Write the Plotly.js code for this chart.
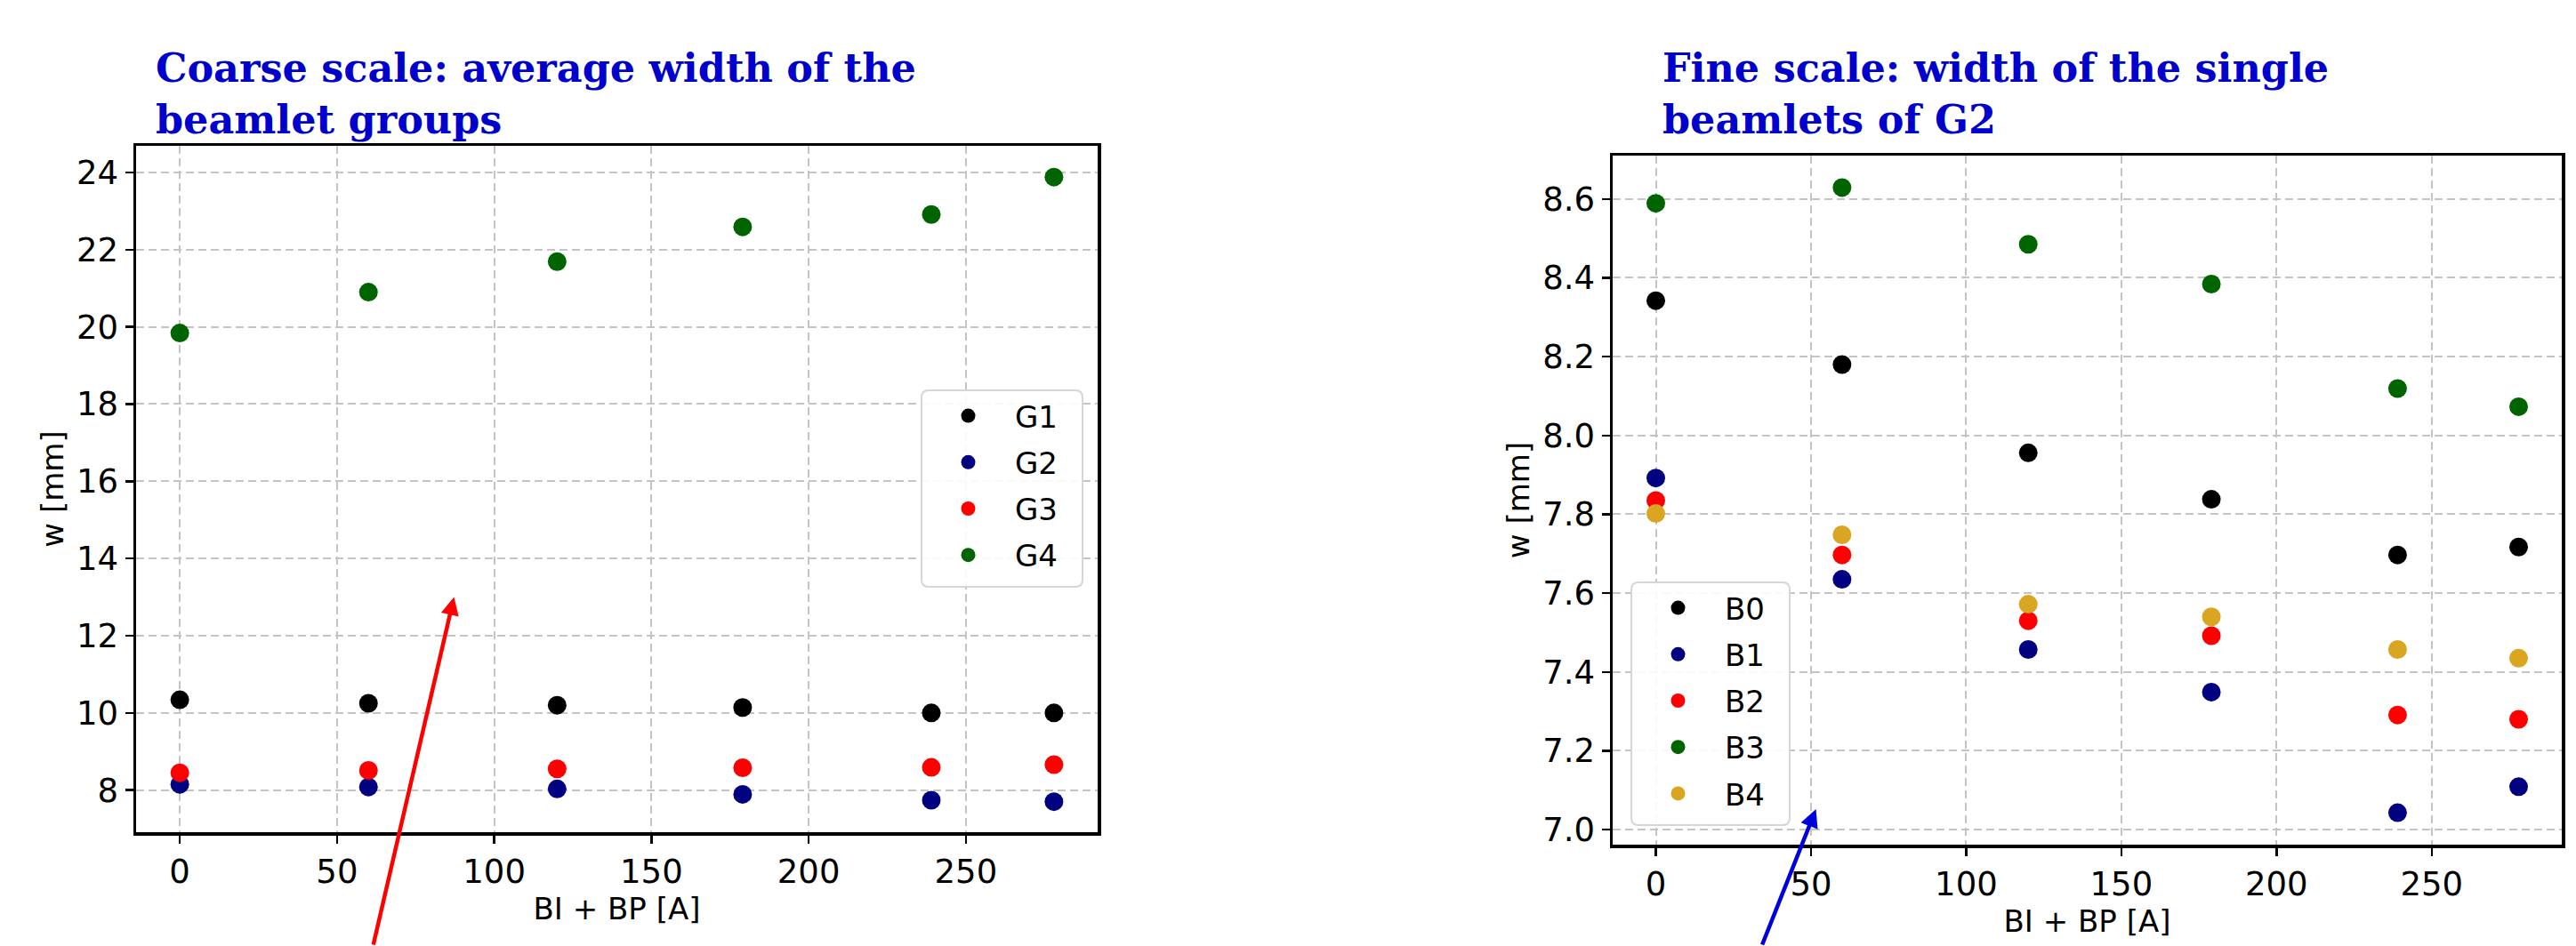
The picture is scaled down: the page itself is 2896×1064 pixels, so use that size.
<!DOCTYPE html>
<html>
<head>
<meta charset="utf-8">
<script src="https://cdn.plot.ly/plotly-3.0.1.min.js"></script>
<style>html,body{margin:0;padding:0;background:#fff;}#chart{width:2896px;height:1064px;}</style>
</head>
<body>
<div id="chart"></div>
<script>
// Currents BI + BP [A]
const current = [0, 60, 120, 179, 239, 278];

// Coarse scale: average width of beamlet groups [mm]
const G1 = [10.34, 10.25, 10.20, 10.14, 10.00, 10.00];
const G2 = [8.15, 8.08, 8.03, 7.89, 7.74, 7.70];
const G3 = [8.45, 8.51, 8.55, 8.58, 8.59, 8.66];
const G4 = [19.84, 20.90, 21.69, 22.59, 22.91, 23.88];

// Fine scale: single beamlets of G2 [mm]
const B0 = [8.342, 8.180, 7.956, 7.838, 7.697, 7.717];
const B1 = [7.892, 7.635, 7.457, 7.349, 7.043, 7.109];
const B2 = [7.835, 7.697, 7.530, 7.492, 7.291, 7.280];
const B3 = [8.589, 8.629, 8.485, 8.384, 8.119, 8.073];
const B4 = [7.802, 7.748, 7.572, 7.540, 7.457, 7.435];

const groupNames = ['G1', 'G2', 'G3', 'G4'];
const groupSeries = [G1, G2, G3, G4];
const beamNames = ['B0', 'B1', 'B2', 'B3', 'B4'];
const beamSeries = [B0, B1, B2, B3, B4];

const groupColors = ['#000000', '#000080', '#ff0000', '#006400'];
const beamColors = ['#000000', '#000080', '#ff0000', '#006400', '#daa520'];

const W = 2896, H = 1064;
const traces = [];
groupSeries.forEach((s, i) => traces.push({
  x: current, y: s, name: groupNames[i], type: 'scatter', mode: 'markers',
  marker: {color: groupColors[i], size: 21}, xaxis: 'x', yaxis: 'y',
  legend: 'legend', legendgroup: 'g' + i
}));
beamSeries.forEach((s, i) => traces.push({
  x: current, y: s, name: beamNames[i], type: 'scatter', mode: 'markers',
  marker: {color: beamColors[i], size: 21}, xaxis: 'x2', yaxis: 'y2',
  legend: 'legend2', legendgroup: 'b' + i
}));

const tickFont = {family: 'DejaVu Sans', size: 37, color: '#000'};
const labelFont = {family: 'DejaVu Sans', size: 34, color: '#000'};
function axisBase(extra) {
  return Object.assign({
    showline: true, linecolor: '#000', linewidth: 3.5, mirror: true,
    ticks: 'outside', ticklen: 9, tickwidth: 2.5, tickcolor: '#000',
    showgrid: true, gridcolor: '#c4c4c4', gridwidth: 2, griddash: '9px,5px',
    zeroline: false, tickfont: tickFont, automargin: false
  }, extra);
}

const legendBase = {
  font: {family: 'DejaVu Sans', size: 34, color: '#000'},
  bgcolor: 'rgba(0,0,0,0)', borderwidth: 0,
  xanchor: 'left', yanchor: 'top', traceorder: 'grouped', tracegroupgap: 5,
  itemwidth: 95
};

// rounded legend frame drawn as a paper-space path
function roundedBox(x0, y0, x1, y1, r) {
  const px = v => (v / W).toFixed(5), py = v => (1 - v / H).toFixed(5);
  return {
    type: 'path', xref: 'paper', yref: 'paper', layer: 'above',
    path: `M ${px(x0 + r)},${py(y0)} L ${px(x1 - r)},${py(y0)} Q ${px(x1)},${py(y0)} ${px(x1)},${py(y0 + r)} ` +
          `L ${px(x1)},${py(y1 - r)} Q ${px(x1)},${py(y1)} ${px(x1 - r)},${py(y1)} ` +
          `L ${px(x0 + r)},${py(y1)} Q ${px(x0)},${py(y1)} ${px(x0)},${py(y1 - r)} ` +
          `L ${px(x0)},${py(y0 + r)} Q ${px(x0)},${py(y0)} ${px(x0 + r)},${py(y0)} Z`,
    fillcolor: 'rgba(255,255,255,0.9)', line: {color: '#d6d6d6', width: 2}
  };
}

const titleFont = {family: 'DejaVu Serif', size: 44.5, color: '#0000cc', weight: 'bold'};

const layout = {
  width: W, height: H,
  margin: {l: 0, r: 0, t: 0, b: 0},
  paper_bgcolor: '#fff', plot_bgcolor: '#fff',
  showlegend: true,
  xaxis: axisBase({domain: [153 / W, 1234 / W], range: [-13.9, 291.9], dtick: 50, tick0: 0,
    title: {text: 'BI + BP [A]', font: labelFont, standoff: 5}, anchor: 'y'}),
  yaxis: axisBase({domain: [1 - 936 / H, 1 - 164 / H], range: [6.91, 24.69], dtick: 2, tick0: 0,
    title: {text: 'w [mm]', font: labelFont, standoff: 5}, anchor: 'x'}),
  xaxis2: axisBase({domain: [1813 / W, 2880 / W], range: [-13.9, 291.9], dtick: 50, tick0: 0,
    title: {text: 'BI + BP [A]', font: labelFont, standoff: 5}, anchor: 'y2'}),
  yaxis2: axisBase({domain: [1 - 950 / H, 1 - 175 / H], range: [6.962, 8.71], dtick: 0.2, tick0: 0,
    tickformat: '.1f', title: {text: 'w [mm]', font: labelFont, standoff: 5}, anchor: 'x2'}),
  legend: Object.assign({}, legendBase, {x: 1036 / W, y: 1 - 439 / H}),
  legend2: Object.assign({}, legendBase, {x: 1834 / W, y: 1 - 655 / H}),
  shapes: [roundedBox(1036, 439, 1217, 660, 8), roundedBox(1834, 655, 2012, 928, 8)],
  annotations: [
    {text: 'Coarse scale: average width of the<br>beamlet groups', xref: 'paper', yref: 'paper',
      x: 173 / W, y: 1 - 48 / H, xanchor: 'left', yanchor: 'top', align: 'left',
      showarrow: false, font: titleFont},
    {text: 'Fine scale: width of the single<br>beamlets of G2', xref: 'paper', yref: 'paper',
      x: 1867 / W, y: 1 - 48 / H, xanchor: 'left', yanchor: 'top', align: 'left',
      showarrow: false, font: titleFont},
    {text: '', xref: 'x', yref: 'y', x: 87.2, y: 13.0, ax: -91, ay: 408,
      showarrow: true, arrowhead: 2, arrowsize: 0.9, arrowwidth: 4.5, arrowcolor: '#ff0000'},
    {text: '', xref: 'x2', yref: 'y2', x: 51.6, y: 7.052, ax: -61, ay: 170,
      showarrow: true, arrowhead: 2, arrowsize: 0.9, arrowwidth: 4.5, arrowcolor: '#0000dd'}
  ]
};

Plotly.newPlot('chart', traces, layout, {staticPlot: true, displayModeBar: false});
</script>
</body>
</html>
